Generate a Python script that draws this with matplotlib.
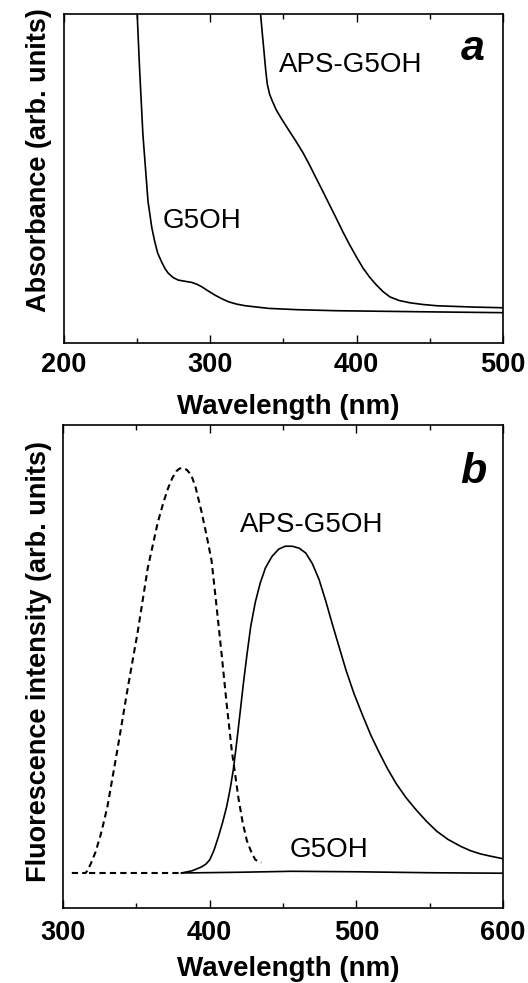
import matplotlib
matplotlib.use("Agg")
import matplotlib.pyplot as plt
from matplotlib.ticker import MultipleLocator

# ---------------- data: panel a (absorbance) ----------------
abs_g5oh_wl = [249.6, 250.0, 251.6, 253.9, 257.4, 260.0, 262.0, 264.0, 266.6, 269.0,
               271.2, 274.5, 278.0, 283.0, 287.2, 291.0, 294.0, 298.5, 303.3, 308.0,
               312.5, 318.0, 324.0, 332.0, 340.0, 360.0, 386.0, 440.0, 500.0]
abs_g5oh_val = [1.05, 1.0, 0.837, 0.634, 0.430, 0.350, 0.308, 0.273, 0.247, 0.226,
                0.212, 0.199, 0.191, 0.187, 0.184, 0.178, 0.171, 0.158, 0.145, 0.134,
                0.125, 0.118, 0.113, 0.109, 0.105, 0.101, 0.098, 0.095, 0.092]

abs_aps_wl = [334.0, 334.3, 335.5, 336.6, 337.8, 338.9, 340.5, 342.3, 345.0, 348.0,
              353.0, 358.4, 363.0, 367.6, 372.0, 376.8, 381.5, 386.0, 390.5, 395.2,
              400.0, 404.4, 409.0, 413.5, 418.0, 422.7, 429.0, 436.5, 445.0, 454.9,
              480.0, 500.0]
abs_aps_val = [1.05, 1.0, 0.940, 0.888, 0.830, 0.786, 0.755, 0.735, 0.708, 0.685,
               0.650, 0.613, 0.580, 0.542, 0.503, 0.461, 0.419, 0.379, 0.338, 0.298,
               0.260, 0.227, 0.199, 0.176, 0.156, 0.140, 0.129, 0.122, 0.117, 0.113,
               0.109, 0.107]

# ---------------- data: panel b (fluorescence) ----------------
exc_wl = [306.0, 315.4, 316.5, 319.0, 322.2, 326.0, 330.3, 337.1, 344.0, 350.9,
          357.8, 364.6, 368.5, 371.5, 374.5, 377.2, 379.5, 381.8, 384.5, 387.5,
          390.5, 394.4, 398.0, 401.3, 404.5, 408.2, 411.5, 415.0, 419.7, 422.5,
          425.4, 428.5, 431.1, 435.2]
exc_val = [0.0725, 0.0725, 0.077, 0.092, 0.116, 0.155, 0.210, 0.328, 0.453, 0.571,
           0.704, 0.798, 0.840, 0.868, 0.890, 0.904, 0.910, 0.911, 0.907, 0.896,
           0.870, 0.821, 0.770, 0.719, 0.630, 0.524, 0.425, 0.328, 0.226, 0.177,
           0.139, 0.115, 0.100, 0.094]

exc_base_wl = [318.0, 381.0]
exc_base_val = [0.0725, 0.0725]

em_aps_wl = [380.7, 388.0, 394.4, 397.5, 400.1, 403.0, 405.9, 408.8, 411.6, 414.0,
             416.2, 418.5, 420.8, 423.0, 425.4, 428.0, 431.1, 434.5, 438.0, 442.5,
             447.1, 451.5, 456.3, 461.0, 465.5, 470.0, 474.6, 479.2, 483.8, 488.4,
             493.0, 498.5, 504.4, 510.0, 515.9, 521.5, 527.3, 534.0, 541.1, 548.0,
             554.8, 562.5, 570.9, 577.5, 584.6, 592.0, 600.0]
em_aps_val = [0.0725, 0.077, 0.085, 0.091, 0.100, 0.120, 0.147, 0.177, 0.210, 0.247,
              0.288, 0.345, 0.406, 0.465, 0.524, 0.583, 0.633, 0.673, 0.704, 0.728,
              0.743, 0.749, 0.749, 0.745, 0.735, 0.713, 0.680, 0.635, 0.586, 0.539,
              0.492, 0.443, 0.398, 0.357, 0.320, 0.287, 0.257, 0.228, 0.202, 0.179,
              0.159, 0.142, 0.128, 0.119, 0.112, 0.107, 0.102]

em_g5oh_wl = [381.0, 420.0, 456.0, 500.0, 550.0, 600.0]
em_g5oh_val = [0.0725, 0.074, 0.076, 0.075, 0.073, 0.072]

xticks_a = [200, 300, 400, 500]
xticks_b = [300, 400, 500, 600]

# ---------------- figure ----------------
W, H = 528, 983
fig = plt.figure(figsize=(W / 100, H / 100), dpi=100)
plt.rcParams['font.family'] = ['Liberation Sans', 'DejaVu Sans']

FS = 19.5
lw_line = 1.2
lw_spine = 1.2

def px_axes(left, top, right, bottom):
    return [left / W, 1 - bottom / H, (right - left) / W, (bottom - top) / H]

def style(ax, ticks, pad):
    ax.set_xticks(ticks)
    ax.set_xticklabels([str(t) for t in ticks], fontsize=FS, fontweight='bold')
    ax.xaxis.set_minor_locator(MultipleLocator(50))
    ax.tick_params(axis='x', which='both', direction='in', top=True, bottom=True,
                   width=1.0, pad=pad)
    ax.tick_params(axis='x', which='major', length=6)
    ax.tick_params(axis='x', which='minor', length=3.5)
    ax.set_yticks([])
    for s in ax.spines.values():
        s.set_linewidth(lw_spine)

# panel a
ax1 = fig.add_axes(px_axes(64, 13.5, 503, 343))
ax1.plot(abs_g5oh_wl, abs_g5oh_val, color='black', lw=lw_line, solid_joinstyle='round')
ax1.plot(abs_aps_wl, abs_aps_val, color='black', lw=lw_line, solid_joinstyle='round')
ax1.set_xlim(200, 500)
ax1.set_ylim(0, 1)
style(ax1, xticks_a, 6.5)
ax1.text(346.9, 0.822, 'APS-G5OH', fontsize=20, ha='left', va='baseline')
ax1.text(267.7, 0.349, 'G5OH', fontsize=20, ha='left', va='baseline')
ax1.text(479.5, 0.858, 'a', fontsize=31, fontweight='bold', fontstyle='italic',
         ha='center', va='baseline')

# panel b
ax2 = fig.add_axes(px_axes(63, 425, 503, 908))
ax2.plot(exc_wl, exc_val, color='black', lw=1.5, dashes=(3.0, 2.0))
ax2.plot(exc_base_wl, exc_base_val, color='black', lw=1.5, dashes=(3.0, 2.0))
ax2.plot(em_g5oh_wl, em_g5oh_val, color='black', lw=lw_line, solid_joinstyle='round')
ax2.plot(em_aps_wl, em_aps_val, color='black', lw=lw_line, solid_joinstyle='round')
ax2.set_xlim(300, 600)
ax2.set_ylim(0, 1)
style(ax2, xticks_b, 8.6)
ax2.text(420.8, 0.778, 'APS-G5OH', fontsize=20, ha='left', va='baseline')
ax2.text(454.5, 0.106, 'G5OH', fontsize=20, ha='left', va='baseline')
ax2.text(579.7, 0.880, 'b', fontsize=31, fontweight='bold', fontstyle='italic',
         ha='center', va='baseline')

# axis labels placed in figure pixels
fig.text(39 / W, 1 - 160.5 / H, 'Absorbance (arb. units)', rotation=90,
         fontsize=FS, fontweight='bold', ha='center', va='center')
fig.text(39 / W, 1 - 662 / H, 'Fluorescence intensity (arb. units)', rotation=90,
         fontsize=FS, fontweight='bold', ha='center', va='center')
fig.text(288 / W, 1 - 414 / H, 'Wavelength (nm)', fontsize=20, fontweight='bold',
         ha='center', va='baseline')
fig.text(288 / W, 1 - 976 / H, 'Wavelength (nm)', fontsize=20, fontweight='bold',
         ha='center', va='baseline')

fig.savefig('out.png', dpi=100, facecolor='white')
